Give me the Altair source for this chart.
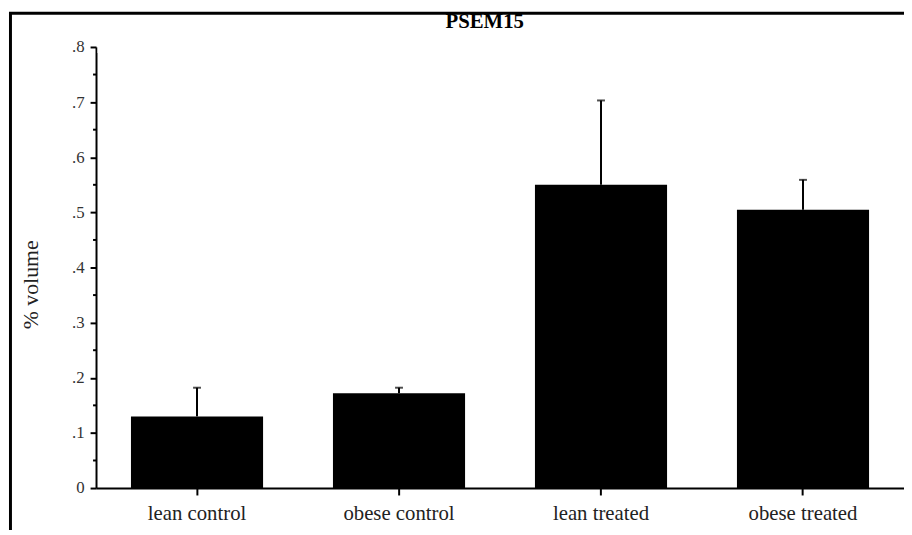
import altair as alt
import pandas as pd

# ---- data ----
groups = ["lean control", "obese control", "lean treated", "obese treated"]
means = [0.13, 0.172, 0.55, 0.505]
uppers = [0.182, 0.182, 0.703, 0.559]
y_ticks = [0, 0.1, 0.2, 0.3, 0.4, 0.5, 0.6, 0.7, 0.8]
minor_ticks = [0.05, 0.15, 0.25, 0.35, 0.45, 0.55, 0.65, 0.75]
chart_title = "PSEM15"
y_title = "% volume"

FONT = "Liberation Serif"

df = pd.DataFrame({"group": groups, "mean": means, "upper": uppers})
df_minor = pd.DataFrame({"v": minor_ticks})
df_one = pd.DataFrame({"k": [0]})

x_axis = alt.Axis(
    title=None,
    labelAngle=0,
    labelFont=FONT,
    labelFontSize=21,
    labelColor="#222",
    labelPadding=8,
    tickSize=7,
    tickWidth=2,
    tickColor="black",
    domainWidth=2,
    domainColor="black",
    grid=False,
)
x_scale = alt.Scale(paddingInner=0.346, paddingOuter=0.173)

y_axis = alt.Axis(
    values=y_ticks,
    title=y_title,
    labelExpr="datum.value == 0 ? '0' : replace(format(datum.value, '.1f'), '0.', '.')",
    labelFont=FONT,
    labelFontSize=17,
    labelColor="#333",
    labelPadding=6,
    tickSize=6,
    tickWidth=2,
    tickColor="black",
    domainWidth=2,
    domainColor="black",
    grid=False,
    titleFont=FONT,
    titleFontSize=22,
    titleFontWeight="normal",
    titleColor="#222",
    titleX=-54,
    titleY=240,
)
y_scale = alt.Scale(domain=[0, 0.8], nice=False, zero=True)


def xe():
    return alt.X("group:N", sort=groups, scale=x_scale, axis=x_axis)


def ye(field):
    return alt.Y(field, scale=y_scale, axis=y_axis)


# white strip hiding the default light edge along the top of the plot area
cover = alt.Chart(df_one).mark_rule(color="white", strokeWidth=7).encode(
    x=alt.value(1.5), x2=alt.value(830), y=alt.value(2.5)
)

bars = alt.Chart(df).mark_bar(color="black").encode(x=xe(), y=ye("mean:Q"))

err = alt.Chart(df).mark_rule(color="black", strokeWidth=2).encode(
    x=xe(), y=ye("mean:Q"), y2="upper:Q"
)

caps = alt.Chart(df).mark_tick(
    color="black", orient="horizontal", size=8, thickness=2
).encode(x=xe(), y=ye("upper:Q"))

minor = alt.Chart(df_minor).mark_rule(color="black", strokeWidth=2).encode(
    y=ye("v:Q"),
    x=alt.value(-3),
    x2=alt.value(0),
)

frame_left = alt.Chart(df_one).mark_rule(color="black", strokeWidth=3).encode(
    x=alt.value(-86.5), y=alt.value(-34.5), y2=alt.value(600)
)
frame_top = alt.Chart(df_one).mark_rule(color="black", strokeWidth=3).encode(
    x=alt.value(-88), x2=alt.value(900), y=alt.value(-34)
)

title_mark = alt.Chart(df_one).mark_text(
    font=FONT, fontSize=21, fontWeight="bold", color="black",
    align="center", baseline="alphabetic",
).encode(
    text=alt.value(chart_title),
    x=alt.value(393),
    y=alt.value(-19.5),
)

chart = (
    alt.layer(bars, err, caps, minor, cover, frame_left, frame_top, title_mark)
    .properties(
        width=817,
        height=446,
        autosize=alt.AutoSizeParams(type="none"),
        padding={"left": 89, "top": 36.5, "right": 0, "bottom": 39.5},
    )
    .configure_view(strokeWidth=0, strokeOpacity=0, fill="white")
    .configure_axis(grid=False, gridOpacity=0)
    .configure(background="white")
)

chart.save("out.html", embed_options={"renderer": "svg", "actions": False})
